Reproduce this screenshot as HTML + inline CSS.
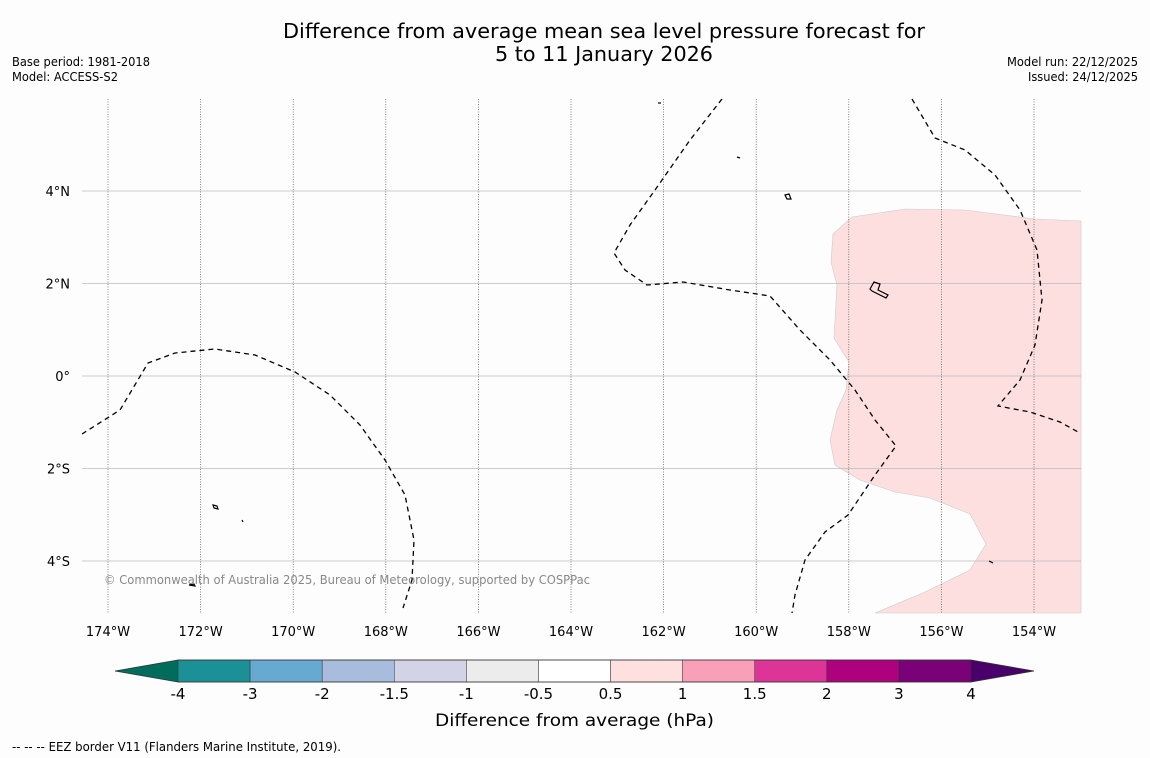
<!DOCTYPE html>
<html><head><meta charset="utf-8"><style>
body{margin:0;background:#fdfdfd;width:1150px;height:758px;overflow:hidden;font-family:"Liberation Sans","DejaVu Sans",sans-serif}
svg{position:absolute;left:0;top:0}
</style></head><body>
<svg id="s" width="1150" height="758" font-family="DejaVu Sans, Liberation Sans, sans-serif">
<text x="283" y="38" font-size="20" textLength="642" lengthAdjust="spacingAndGlyphs">Difference from average mean sea level pressure forecast for</text>
<text x="495" y="61" font-size="20" textLength="218" lengthAdjust="spacingAndGlyphs">5 to 11 January 2026</text>
<text x="12" y="66" font-size="12" textLength="138" lengthAdjust="spacingAndGlyphs">Base period: 1981-2018</text>
<text x="12" y="81" font-size="12" textLength="106" lengthAdjust="spacingAndGlyphs">Model: ACCESS-S2</text>
<text x="1007" y="66" font-size="12" textLength="131" lengthAdjust="spacingAndGlyphs">Model run: 22/12/2025</text>
<text x="1028" y="81" font-size="12" textLength="110" lengthAdjust="spacingAndGlyphs">Issued: 24/12/2025</text>
<g id="map"></g>
<g id="cb"></g>
<text x="435" y="726" font-size="17" textLength="279" lengthAdjust="spacingAndGlyphs">Difference from average (hPa)</text>
<text x="12" y="751" font-size="12" textLength="329" lengthAdjust="spacingAndGlyphs">--  --  -- EEZ border V11 (Flanders Marine Institute, 2019).</text>
</svg>
<script>
const lonTicks=[-174,-172,-170,-168,-166,-164,-162,-160,-158,-156,-154];
const latTicks=[4,2,0,-2,-4];
const cbBounds=['-4','-3','-2','-1.5','-1','-0.5','0.5','1','1.5','2','3','4'];
const cbColors=['#1b9096','#66a9d1','#a8bcdd','#d3d3e8','#ececec','#ffffff','#fde0df','#f99fb7','#dd3497','#ae017e','#7a0177'];
const NS='http://www.w3.org/2000/svg';
const X0=82,X1=1081,Y0=99,Y1=613;
function xs(lon){return 108+(lon+174)*46.3;}
function ys(lat){return 376-lat*46.25;}
function mk(t,a,p){const e=document.createElementNS(NS,t);for(const k in a)e.setAttribute(k,a[k]);p.appendChild(e);return e;}
const map=document.getElementById('map');
const pink=mk('path',{d:'M1081 221 L1035 219 L965 210 L905 209 L852 217 L833 234 L831 262 L837 285 L834 338 L849 362 L846 390 L837 410 L830 440 L835 465 L860 480 L895 492 L930 498 L970 514 L986 544 L970 570 L925 592 L875 613 L1081 613 Z',fill:'#fddfdf',stroke:'#cccccc','stroke-width':0.6},map);


lonTicks.forEach(l=>{const x=xs(l);
const g=mk('line',{x1:x,x2:x,y1:Y0,y2:Y1,stroke:'#555','stroke-width':0.7,'stroke-dasharray':'1,1.5'},map);


const t=mk('text',{x:x,y:636,'font-size':13,'text-anchor':'middle'},map);t.textContent=Math.abs(l)+'°W';

});
latTicks.forEach(l=>{const y=ys(l);
const g=mk('line',{x1:X0,x2:X1,y1:y,y2:y,stroke:'#bbb','stroke-width':0.8},map);


const t=mk('text',{x:70,y:y+5,'font-size':13,'text-anchor':'end'},map);t.textContent=l===0?'0°':Math.abs(l)+'°'+(l>0?'N':'S');

});
const eez=['M82 434 L120 410 L148 363 L175 353 L215 349 L255 355 L295 372 L330 395 L360 425 L385 460 L405 495 L414 540 L412 580 L403 608',
'M722 99 L690 140 L655 190 L630 225 L614 253 L625 270 L647 285 L683 282 L730 290 L770 296 L800 330 L830 360 L855 390 L875 420 L896 446 L875 475 L848 515 L825 532 L805 560 L795 595 L792 613',
'M912 99 L935 138 L965 150 L995 175 L1020 210 L1037 250 L1042 300 L1035 345 L1020 380 L998 406 L1030 412 L1060 422 L1078 432'];
eez.forEach(d=>{const p=mk('path',{d:d,fill:'none',stroke:'#000','stroke-width':1.3,'stroke-dasharray':'5,4'},map);

});
[['M870 289 L874 282 L880 284 L878 290 L888 295 L886 298 L872 291 Z'],['M785 195 L789 194 L791 199 L787 199 Z'],['M213 505 L217 506 L218 509 L214 508 Z'],['M189 585 L194 584 L195 586 Z'],['M658 103 L661 103'],['M737 157 L740 158'],['M242 520 L243 522'],['M989 561 L993 563']].forEach(a=>{
const p=mk('path',{d:a[0],fill:'none',stroke:'#000','stroke-width':1.2},map);

});
const cp=mk('text',{x:104,y:584,'font-size':12,fill:'#888',textLength:486,lengthAdjust:'spacingAndGlyphs'},map);cp.textContent='© Commonwealth of Australia 2025, Bureau of Meteorology, supported by COSPPac';


const cb=document.getElementById('cb');
const cx0=178,cx1=971,cy0=660,cy1=682,w=(cx1-cx0)/cbColors.length;
const lt=mk('path',{d:`M${cx0} ${cy0} L115 671 L${cx0} ${cy1} Z`,fill:'#006d5c'},cb);


const rt=mk('path',{d:`M${cx1} ${cy0} L1034 671 L${cx1} ${cy1} Z`,fill:'#49006a'},cb);


cbColors.forEach((c,i)=>{const r=mk('rect',{x:cx0+i*w,y:cy0,width:w,height:cy1-cy0,fill:c,stroke:'#333','stroke-width':0.5},cb);

});
mk('path',{d:`M${cx0} ${cy0} L115 671 L${cx0} ${cy1} L${cx1} ${cy1} L1034 671 L${cx1} ${cy0} Z`,fill:'none',stroke:'#333','stroke-width':0.8},cb);
cbBounds.forEach((b,i)=>{const t=mk('text',{x:cx0+i*w,y:699,'font-size':15,'text-anchor':'middle'},cb);t.textContent=b;

});
</script>
</body></html>
